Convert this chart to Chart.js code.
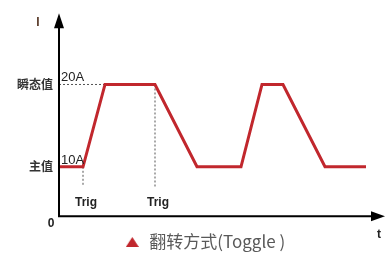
<!DOCTYPE html>
<html>
<head>
<meta charset="utf-8">
<script src="https://cdn.jsdelivr.net/npm/chart.js@4.4.1/dist/chart.umd.min.js"></script>
<style>
  html, body { margin: 0; padding: 0; background: #fff; }
  #wrap { width: 392px; height: 254px; }
</style>
</head>
<body>
<div id="wrap"><canvas id="toggleChart"></canvas></div>
<script>
// waveform (t in arbitrary units, I in A)
const waveT = [0, 24, 46, 96, 138, 182, 203, 224, 266, 307];
const waveI = [10, 10, 20, 20, 10, 10, 20, 20, 10, 10];

const levelValues = [10, 20];
const levelNames = ["主值", "瞬态值"];
const levelTags = ["10A", "20A"];

const trigT = [24, 96];
const trigFrom = [10, 20];
const trigTo = 7.6;

const legendText = "翻转方式(Toggle )";

const axisOrigin = 4;
const tMax = 326;
const iMin = 2.32;
const iMax = 28.66;

const red = "#c1272d";
const dotted = "#555";

function toPoints(xs, ys) {
  return xs.map((x, i) => ({ x: x, y: ys[i] }));
}

// small triangle marker for the legend
function legendMarker() {
  const cv = document.createElement("canvas");
  cv.width = 13;
  cv.height = 11;
  const g = cv.getContext("2d");
  g.fillStyle = red;
  g.beginPath();
  g.moveTo(6.5, 1);
  g.lineTo(13, 11);
  g.lineTo(0, 11);
  g.closePath();
  g.fill();
  return cv;
}

const datasets = [
  {
    label: legendText,
    data: toPoints(waveT, waveI),
    borderColor: red,
    backgroundColor: red,
    borderWidth: 3,
    pointRadius: 0,
    pointStyle: legendMarker(),
    tension: 0,
  },
  {
    label: "hline",
    data: [{ x: 0, y: levelValues[1] }, { x: waveT[2], y: levelValues[1] }],
    borderColor: dotted,
    borderWidth: 1,
    borderDash: [2, 2],
    pointRadius: 0,
  },
];
trigT.forEach((t, i) => {
  datasets.push({
    label: "trig" + i,
    data: [{ x: t, y: trigFrom[i] }, { x: t, y: trigTo }],
    borderColor: dotted,
    borderWidth: 1,
    borderDash: [2, 2],
    pointRadius: 0,
  });
});

// axes with arrowheads and the loose labels
const sketchPlugin = {
  id: "sketch",
  afterLayout(chart) {
    // legend sits a bit right of the canvas centre in the original
    chart.legend.left += 24;
  },
  afterDatasetsDraw(chart) {
    const c = chart.ctx;
    const x = chart.scales.x;
    const y = chart.scales.y;
    const ox = x.getPixelForValue(0);
    const oy = y.getPixelForValue(axisOrigin);
    const top = y.getPixelForValue(iMax);
    const right = x.getPixelForValue(tMax);
    c.save();
    c.strokeStyle = "#000";
    c.fillStyle = "#000";
    c.lineWidth = 2;
    c.beginPath();
    c.moveTo(ox, oy);
    c.lineTo(ox, top + 8);
    c.moveTo(ox - 1, oy);
    c.lineTo(right - 8, oy);
    c.stroke();
    c.beginPath();
    c.moveTo(ox, top);
    c.lineTo(ox - 5, top + 15);
    c.lineTo(ox + 5, top + 15);
    c.closePath();
    c.fill();
    c.beginPath();
    c.moveTo(right, oy);
    c.lineTo(right - 14, oy - 5);
    c.lineTo(right - 14, oy + 5);
    c.closePath();
    c.fill();

    c.fillStyle = "#222";
    c.font = "bold 12px 'Liberation Sans', Arial, sans-serif";
    c.textBaseline = "middle";
    c.textAlign = "center";
    trigT.forEach((t) => {
      c.fillText("Trig", x.getPixelForValue(t) + 3, y.getPixelForValue(trigTo) + 16);
    });
    c.fillText("0", ox - 8, oy + 8);
    c.fillText("t", right - 6, oy + 19);
    c.fillStyle = "#5a3b2a";
    c.fillText("I", ox - 21, top + 9);

    c.fillStyle = "#222";
    c.font = "13px 'Liberation Sans', Arial, sans-serif";
    c.textAlign = "left";
    c.textBaseline = "alphabetic";
    levelValues.forEach((v, i) => {
      c.fillText(levelTags[i], ox + 2, y.getPixelForValue(v) - 3);
    });
    c.restore();
  },
};

new Chart(document.getElementById("toggleChart"), {
  type: "line",
  data: { datasets: datasets },
  options: {
    responsive: true,
    maintainAspectRatio: false,
    animation: false,
    layout: { padding: { top: 11, right: 7, left: 0, bottom: -6 } },
    plugins: {
      tooltip: { enabled: false },
      legend: {
        position: "bottom",
        labels: {
          filter: (item) => item.datasetIndex === 0,
          usePointStyle: true,
          boxHeight: 17,
          padding: 3,
          color: "#595959",
          font: { size: 17, family: "'Noto Sans CJK SC', sans-serif" },
        },
      },
    },
    scales: {
      x: {
        type: "linear",
        min: 0,
        max: tMax,
        display: false,
      },
      y: {
        type: "linear",
        min: iMin,
        max: iMax,
        grid: { display: false, drawTicks: false },
        border: { display: false },
        afterFit(scale) { scale.width = 59; },
        afterBuildTicks(scale) {
          scale.ticks = levelValues.map((v) => ({ value: v }));
        },
        ticks: {
          padding: 6,
          color: "#333",
          font: { size: 12, weight: "bold", family: "'Noto Sans CJK SC', sans-serif" },
          callback: (v) => {
            const i = levelValues.indexOf(v);
            return i >= 0 ? levelNames[i] : "";
          },
        },
      },
    },
  },
  plugins: [sketchPlugin],
});
</script>
</body>
</html>
